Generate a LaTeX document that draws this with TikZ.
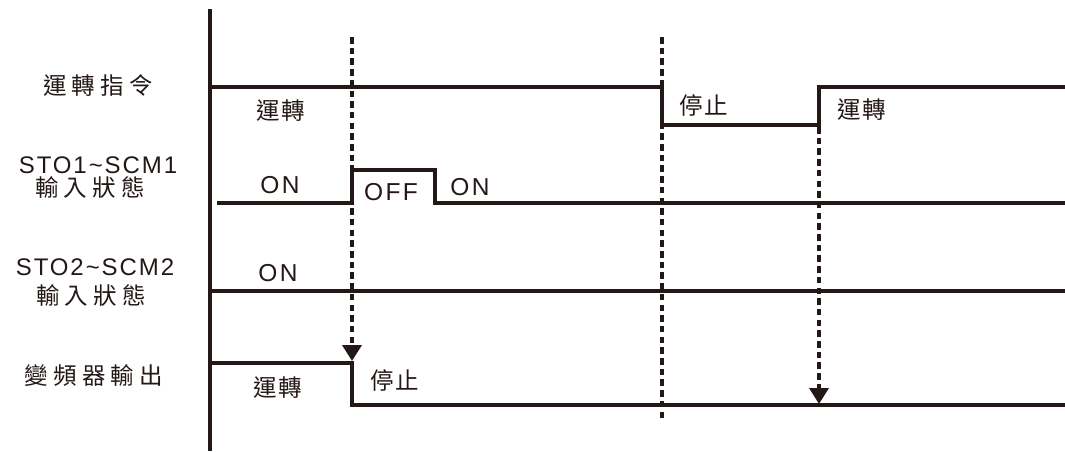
\documentclass[tikz,border=0pt]{standalone}
\usepackage{fontspec}
\setmainfont{Liberation Sans}
\newfontfamily\cjkwide[LetterSpace=22]{Noto Sans CJK TC}
\newfontfamily\cjkval[LetterSpace=6]{Noto Sans CJK TC}
\newfontfamily\latwide[LetterSpace=8]{Liberation Sans}
\newfontfamily\latval[LetterSpace=10]{Liberation Sans}
\usetikzlibrary{arrows.meta,positioning}
\definecolor{inkcolor}{RGB}{35,24,21}
\newcommand\rowcjkfont{\fontsize{23.5}{27}\selectfont\cjkwide}
\newcommand\rowlatfont{\fontsize{24}{28}\selectfont\latwide}
\newcommand\valcjkfont{\fontsize{23.5}{27}\selectfont\cjkval}
\newcommand\vallatfont{\fontsize{24.5}{28}\selectfont\latval}

\begin{document}
\begin{tikzpicture}[
  x=1pt,y=-1pt,
  rowcjk/.style={inner sep=0pt,text=inkcolor,font=\rowcjkfont},
  rowlat/.style={inner sep=0pt,text=inkcolor,font=\rowlatfont},
  valcjk/.style={inner sep=0pt,text=inkcolor,font=\valcjkfont},
  vallat/.style={inner sep=0pt,text=inkcolor,font=\vallatfont},
  axis/.style={line width=3.4pt,draw=inkcolor},
  wave/.style={line width=3.8pt,draw=inkcolor},
  guide/.style={line width=3.6pt,draw=inkcolor,dash pattern=on 6.5pt off 4.2pt},
  cue/.style={guide,-{Triangle[width=19pt,length=16pt]}}
]
  \useasboundingbox (0,0) rectangle (1065,451);

  % row labels
  \node[rowcjk] (cmd) at (98,86) {運轉指令};
  \node[rowlat] (sto1) at (98,165) {STO1\textasciitilde SCM1};
  \node[rowcjk] (sto1in) at (90,188) {輸入狀態};
  \node[rowlat] (sto2) at (95,267) {STO2\textasciitilde SCM2};
  \node[rowcjk] (sto2in) at (91,296) {輸入狀態};
  \node[rowcjk] (drive) at (94,376) {變頻器輸出};

  % time axis
  \draw[axis] (210,9) -- (210,451);

  % waveforms
  \draw[wave] (210,87) -- (662,87) -- (662,125) -- (819,125) -- (819,87) -- (1065,87);
  \draw[wave,line width=3.5pt] (217,203) -- (352,203) -- (352,170) -- (435,170) -- (435,203) -- (1065,203);
  \draw[wave,line width=3.5pt] (210,291) -- (1065,291);
  \draw[wave,line width=3.5pt] (210,363) -- (352,363) -- (352,405) -- (1065,405);

  % state texts
  \node[valcjk] (cmdrun) at (281,111) {運轉};
  \node[valcjk] (cmdstop) at (704,105) {停止};
  \node[valcjk] (cmdrerun) at (862,110) {運轉};
  \node[vallat] (sto1on) at (280,185) {ON};
  \node[vallat] (sto1off) at (391,192) {OFF};
  \node[vallat] (sto1reon) at (470,187) {ON};
  \node[vallat] (sto2on) at (278,273) {ON};
  \node[valcjk] (driverun) at (278,388) {運轉};
  \node[valcjk] (drivestop) at (395,380) {停止};

  % dashed guides
  \coordinate (offtop) at (352,37);
  \coordinate (offend) at (352,361);
  \coordinate (stoptop) at (662,37);
  \coordinate (stopend) at (662,422);
  \coordinate (runtop) at (819,127);
  \coordinate (runend) at (819,404);
  \draw[cue] (offtop) -- (offend);
  \draw[guide] (stoptop) -- (stopend);
  \draw[cue] (runtop) -- (runend);
\end{tikzpicture}
\end{document}
